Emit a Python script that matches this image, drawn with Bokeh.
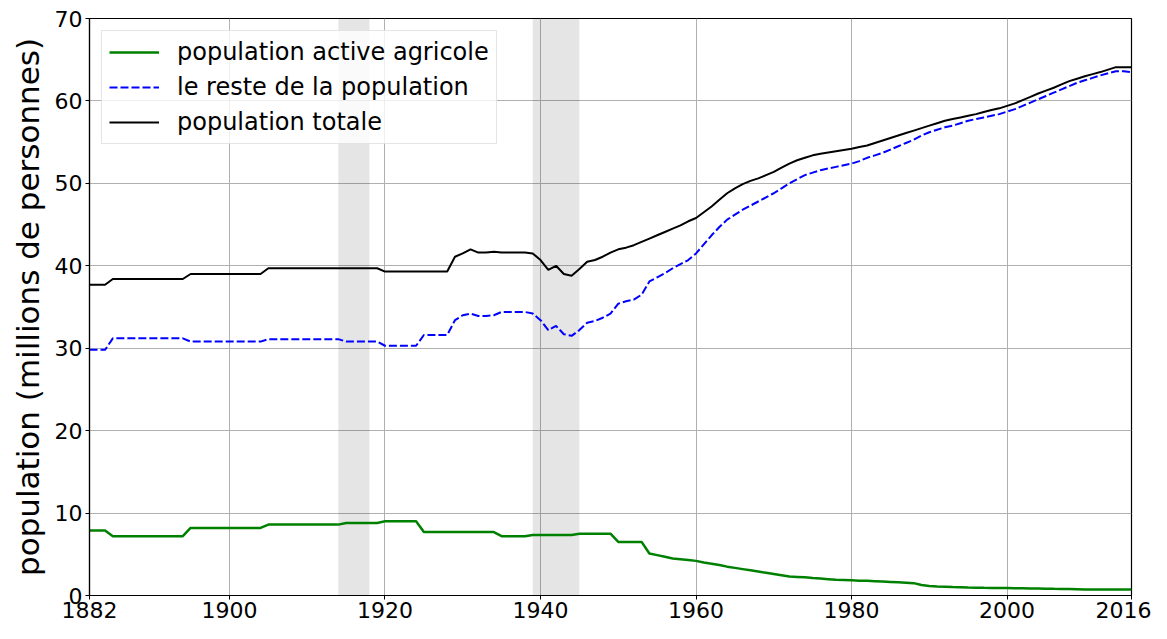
from bokeh.plotting import figure
from bokeh.models import Range1d, FixedTicker, BoxAnnotation, Legend, LegendItem
from bokeh.embed import file_html
from bokeh.resources import INLINE

years = list(range(1882, 2017))

agri = ([7.9] * 3 + [7.2] * 10 + [8.2] * 10 + [8.6] * 10 + [8.8] * 5 + [9.0] * 5
        + [7.7] * 10 + [7.2] * 4 + [7.35] * 6 + [7.5] * 5 + [6.5] * 4
        + [5.1, 4.9, 4.7, 4.5, 4.4, 4.3, 4.2, 4.0, 3.85, 3.7,
           3.5, 3.35, 3.2, 3.05, 2.9, 2.75, 2.6, 2.45, 2.3, 2.25,
           2.2, 2.12, 2.05, 1.98, 1.9, 1.88, 1.85, 1.8, 1.78, 1.74,
           1.7, 1.65, 1.6, 1.55, 1.5, 1.27, 1.15, 1.1, 1.07, 1.03,
           1.0, 0.97, 0.95, 0.93, 0.92, 0.91, 0.9, 0.89, 0.88, 0.86,
           0.85, 0.83, 0.81, 0.8, 0.78, 0.76, 0.74, 0.73, 0.72, 0.72,
           0.72, 0.72, 0.72])

reste = ([29.8] * 3 + [31.2] * 10 + [30.8] * 10 + [31.1] * 10 + [30.8] * 5 + [30.3] * 5
         + [31.6] * 4
         + [33.4, 34.0, 34.2, 33.9, 33.9, 34.0, 34.4, 34.4, 34.4, 34.4,
            34.2, 33.4, 32.2, 32.7, 31.7, 31.5, 32.2, 33.1, 33.3, 33.7,
            34.2, 35.4, 35.7, 35.9, 36.5, 38.1, 38.6, 39.1, 39.7, 40.2,
            40.7, 41.5, 42.6, 43.7, 44.7, 45.6, 46.2, 46.8, 47.3, 47.8,
            48.3, 48.8, 49.4, 50.0, 50.5, 51.0, 51.3, 51.6, 51.8, 52.0,
            52.2, 52.4, 52.7, 53.1, 53.4, 53.7, 54.1, 54.5, 54.9, 55.3,
            55.8, 56.2, 56.5, 56.8, 57.0, 57.3, 57.6, 57.8, 58.0, 58.2,
            58.4, 58.7, 59.0, 59.4, 59.8, 60.2, 60.6, 61.0, 61.4, 61.8,
            62.2, 62.5, 62.8, 63.1, 63.35, 63.6, 63.6, 63.5])

totale = ([37.7] * 3 + [38.4] * 10 + [39.0] * 10 + [39.7] * 15 + [39.3] * 9
          + [41.1, 41.5, 42.0, 41.6, 41.6, 41.7, 41.6, 41.6, 41.6, 41.6,
             41.5, 40.7, 39.5, 40.0, 39.0, 38.8, 39.6, 40.5, 40.7, 41.1,
             41.6, 42.0, 42.2, 42.5, 42.9, 43.3, 43.7, 44.1, 44.5, 44.9,
             45.4, 45.8, 46.5, 47.2, 48.0, 48.8, 49.4, 49.9, 50.3, 50.6,
             51.0, 51.4, 51.9, 52.4, 52.8, 53.1, 53.4, 53.6, 53.75, 53.9,
             54.05, 54.2, 54.4, 54.6, 54.9, 55.2, 55.5, 55.8, 56.1, 56.4,
             56.7, 57.0, 57.3, 57.6, 57.8, 58.0, 58.2, 58.4, 58.65, 58.9,
             59.1, 59.4, 59.7, 60.1, 60.5, 60.9, 61.25, 61.6, 62.0, 62.4,
             62.7, 63.0, 63.25, 63.5, 63.8, 64.1, 64.1, 64.1])

war_start = [1914, 1939]
war_end = [1918, 1945]

x_ticks = [1882, 1900, 1920, 1940, 1960, 1980, 2000, 2016]
y_ticks = [0, 10, 20, 30, 40, 50, 60, 70]

labels = ["population active agricole", "le reste de la population", "population totale"]

FONT = "DejaVu Sans"

p = figure(width=1151, height=623, output_backend="svg", toolbar_location=None,
           x_range=Range1d(years[0], years[-1]), y_range=Range1d(0, 70),
           min_border_left=89, min_border_right=20, min_border_top=18, min_border_bottom=28)

for s, e in zip(war_start, war_end):
    p.add_layout(BoxAnnotation(left=s, right=e, fill_color="black", fill_alpha=0.1,
                               line_color=None, level="underlay"))

r1 = p.line(years, agri, line_color="green", line_width=2.5)
r2 = p.line(years, reste, line_color="blue", line_width=2, line_dash="8 3")
r3 = p.line(years, totale, line_color="black", line_width=2)

legend = Legend(items=[LegendItem(label=labels[0], renderers=[r1]),
                       LegendItem(label=labels[1], renderers=[r2]),
                       LegendItem(label=labels[2], renderers=[r3])],
                location="top_left")
legend.margin = 12
legend.padding = 7
legend.spacing = 7
legend.glyph_width = 50
legend.label_standoff = 18
legend.label_text_font = FONT
legend.label_text_font_size = "24px"
legend.label_text_color = "black"
legend.border_line_color = "#cccccc"
legend.border_line_width = 1
legend.background_fill_alpha = 0.8
p.add_layout(legend)

p.xaxis.ticker = FixedTicker(ticks=x_ticks)
p.yaxis.ticker = FixedTicker(ticks=y_ticks)
p.xgrid.ticker = FixedTicker(ticks=x_ticks)
p.ygrid.ticker = FixedTicker(ticks=y_ticks)

for ax in (p.xaxis, p.yaxis):
    ax.major_label_text_font = FONT
    ax.major_label_text_font_size = "22px"
    ax.major_label_text_color = "black"
    ax.axis_line_color = "black"
    ax.axis_line_width = 1.2
    ax.major_tick_line_color = "black"
    ax.major_tick_in = 0
    ax.major_tick_out = 4
    ax.minor_tick_line_color = None
    ax.major_label_standoff = 3

p.xaxis.major_label_standoff = 2

p.yaxis.axis_label = "population (millions de personnes)"
p.yaxis.axis_label_text_font = FONT
p.yaxis.axis_label_text_font_size = "31px"
p.yaxis.axis_label_text_font_style = "normal"
p.yaxis.axis_label_text_color = "black"
p.yaxis.axis_label_standoff = 6

p.grid.grid_line_color = "#b0b0b0"
p.grid.grid_line_width = 1
p.outline_line_color = "black"
p.outline_line_width = 1.2
p.outline_line_alpha = 1

open("out.html", "w").write(file_html(p, INLINE))
